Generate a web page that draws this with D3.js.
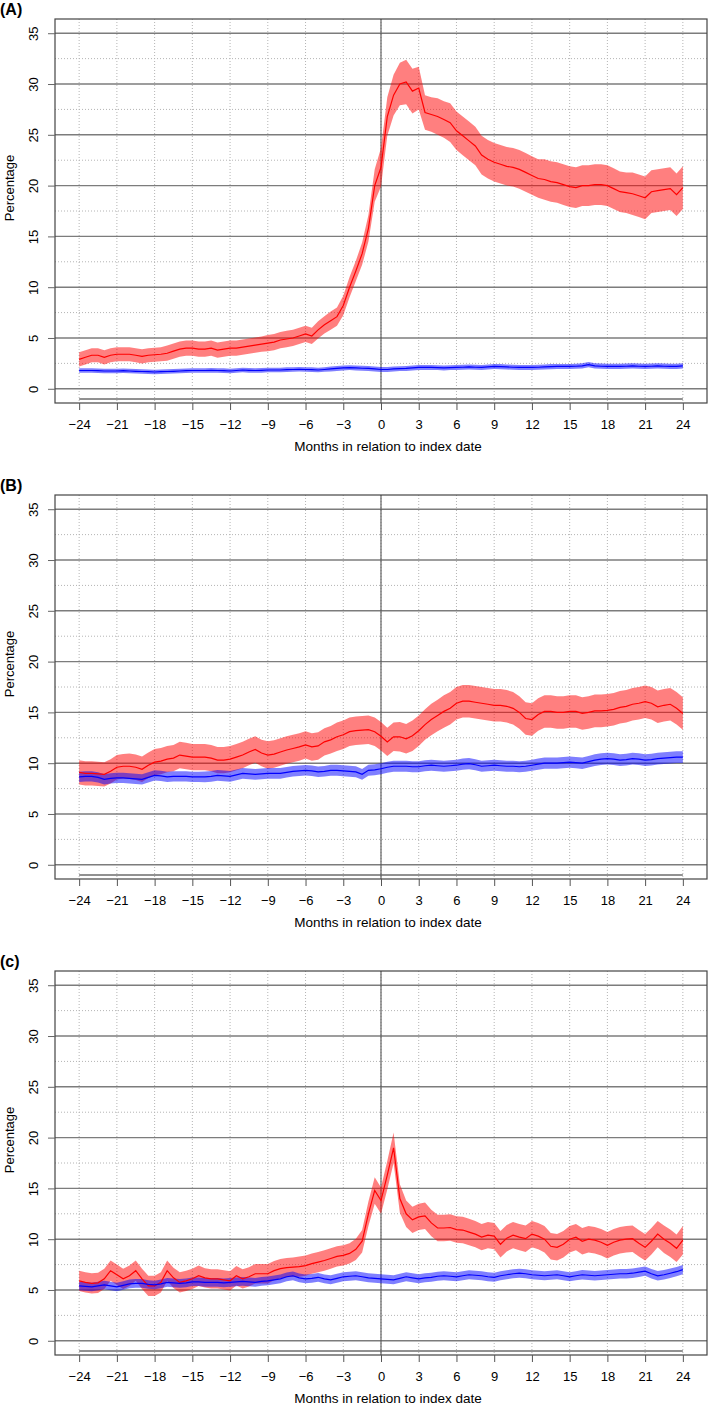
<!DOCTYPE html>
<html><head><meta charset="utf-8">
<script src="https://cdn.jsdelivr.net/npm/d3@7"></script>
<style>
body{margin:0;background:#fff}
svg{display:block}
text{font-family:"Liberation Sans",Arial,Helvetica,sans-serif;fill:#000}
</style>
</head><body>
<svg id="chart" width="709" height="1409"></svg>
<script>
// x grid: months relative to index date (half-month steps)
const months = d3.range(-24, 24.001, 0.5);
const xTicks = [-24,-21,-18,-15,-12,-9,-6,-3,0,3,6,9,12,15,18,21,24];
const yTicks = [0,5,10,15,20,25,30,35];
const yMinor = [2.5,7.5,12.5,17.5,22.5,27.5,32.5];
const panelLabels = ["(A)","(B)","(c)"];
const xTitle = "Months in relation to index date";
const yTitle = "Percentage";

// Panel A
const aRedMean = [
2.9,3.1,3.3,3.3,3.1,3.3,3.4,3.4,3.4,3.3,
3.2,3.3,3.35,3.4,3.5,3.7,3.9,4.0,4.0,3.9,
3.9,4.0,3.8,3.9,4.0,4.0,4.1,4.2,4.3,4.4,
4.5,4.6,4.8,4.9,5.0,5.2,5.4,5.2,5.8,6.3,
6.7,7.1,8.2,10.0,11.6,13.3,15.8,20.0,21.8,26.8,
28.9,30.0,30.2,29.3,29.6,27.2,27.0,26.8,26.5,26.2,
25.4,24.9,24.4,23.9,23.0,22.6,22.3,22.1,21.9,21.8,
21.6,21.3,21.0,20.7,20.6,20.4,20.3,20.1,19.9,19.8,
20.0,20.0,20.1,20.1,20.0,19.7,19.4,19.3,19.2,19.0,
18.8,19.4,19.5,19.6,19.7,19.1,19.8];
const aRedHalf = [
0.7,0.7,0.7,0.7,0.7,0.7,0.7,0.7,0.7,0.7,
0.7,0.7,0.7,0.7,0.75,0.75,0.75,0.75,0.75,0.75,
0.75,0.75,0.75,0.75,0.75,0.75,0.75,0.75,0.75,0.75,
0.8,0.8,0.8,0.8,0.8,0.8,0.8,0.8,0.85,0.85,
0.9,0.9,0.95,1.0,1.0,1.1,1.3,1.6,1.9,1.9,
2.0,2.1,2.2,2.2,2.1,1.7,1.7,1.8,1.8,1.9,
1.9,1.9,1.9,1.9,1.9,1.9,1.9,1.9,1.9,1.9,
1.9,1.9,1.9,1.9,2.0,2.0,2.0,2.0,2.0,2.0,
2.0,2.0,2.0,2.0,2.0,2.0,2.0,2.0,2.1,2.1,
2.1,2.1,2.1,2.1,2.1,2.1,2.1];
const aBlueMean = [
1.8,1.8,1.8,1.78,1.75,1.75,1.75,1.78,1.75,1.72,
1.7,1.68,1.65,1.68,1.7,1.72,1.75,1.78,1.8,1.8,
1.8,1.82,1.8,1.78,1.75,1.8,1.85,1.82,1.8,1.82,
1.85,1.85,1.85,1.88,1.9,1.92,1.9,1.88,1.85,1.9,
1.95,2.0,2.05,2.08,2.05,2.02,2.0,1.95,1.9,1.9,
1.95,1.98,2.0,2.05,2.1,2.1,2.1,2.08,2.05,2.08,
2.1,2.12,2.15,2.12,2.1,2.15,2.2,2.18,2.15,2.12,
2.1,2.1,2.1,2.12,2.15,2.18,2.2,2.2,2.2,2.22,
2.25,2.38,2.25,2.22,2.2,2.2,2.2,2.22,2.25,2.22,
2.2,2.22,2.25,2.22,2.2,2.2,2.25];
const aBlueHalf = [
0.22,0.22,0.22,0.22,0.22,0.22,0.22,0.22,0.22,0.22,
0.22,0.22,0.22,0.22,0.22,0.22,0.22,0.22,0.22,0.22,
0.23,0.23,0.23,0.23,0.23,0.23,0.23,0.23,0.23,0.23,
0.23,0.23,0.23,0.23,0.23,0.23,0.23,0.23,0.23,0.23,
0.24,0.24,0.24,0.24,0.24,0.24,0.24,0.24,0.24,0.24,
0.24,0.24,0.24,0.24,0.24,0.24,0.24,0.24,0.24,0.24,
0.25,0.25,0.25,0.25,0.25,0.25,0.25,0.25,0.25,0.25,
0.25,0.25,0.25,0.25,0.25,0.25,0.25,0.25,0.25,0.25,
0.26,0.26,0.26,0.26,0.26,0.26,0.26,0.26,0.26,0.26,
0.26,0.26,0.26,0.26,0.26,0.26,0.26];

// Panel B
const bRedMean = [
9.1,9.0,9.0,8.95,8.9,9.2,9.6,9.7,9.7,9.6,
9.4,9.8,10.1,10.2,10.4,10.5,10.8,10.7,10.6,10.6,
10.6,10.5,10.3,10.3,10.4,10.6,10.8,11.1,11.35,11.0,
10.8,10.9,11.1,11.3,11.45,11.6,11.8,11.6,11.7,12.1,
12.3,12.6,12.8,13.1,13.2,13.25,13.3,13.1,12.65,12.1,
12.6,12.6,12.4,12.7,13.2,13.8,14.3,14.7,15.1,15.4,
15.9,16.1,16.1,16.0,15.9,15.8,15.7,15.7,15.6,15.4,
15.0,14.4,14.3,14.8,15.1,15.1,15.0,15.0,15.1,15.1,
14.9,15.0,15.15,15.15,15.2,15.3,15.5,15.6,15.8,15.9,
16.05,15.9,15.55,15.7,15.8,15.4,14.9];
const bRedHalf = [
1.2,1.2,1.2,1.2,1.2,1.2,1.2,1.2,1.25,1.25,
1.25,1.25,1.3,1.3,1.3,1.3,1.3,1.3,1.3,1.3,
1.3,1.3,1.3,1.3,1.3,1.3,1.3,1.3,1.3,1.3,
1.35,1.35,1.35,1.35,1.35,1.35,1.35,1.35,1.35,1.35,
1.35,1.4,1.4,1.4,1.4,1.4,1.4,1.4,1.4,1.4,
1.4,1.45,1.45,1.5,1.5,1.5,1.55,1.55,1.6,1.6,
1.6,1.6,1.6,1.6,1.6,1.6,1.6,1.6,1.6,1.6,
1.6,1.6,1.6,1.6,1.6,1.6,1.6,1.6,1.6,1.6,
1.6,1.6,1.6,1.6,1.6,1.6,1.6,1.6,1.6,1.6,
1.6,1.6,1.6,1.6,1.6,1.6,1.6];
const bBlueMean = [
8.65,8.7,8.7,8.6,8.4,8.5,8.55,8.55,8.5,8.45,
8.4,8.6,8.8,8.75,8.65,8.7,8.7,8.7,8.65,8.65,
8.65,8.7,8.8,8.75,8.7,8.85,9.0,8.95,8.9,8.95,
9.0,9.0,9.0,9.1,9.2,9.25,9.3,9.25,9.15,9.2,
9.3,9.3,9.25,9.2,9.15,8.9,9.3,9.35,9.45,9.6,
9.7,9.7,9.7,9.65,9.65,9.75,9.8,9.75,9.7,9.75,
9.8,9.9,9.95,9.85,9.7,9.75,9.8,9.75,9.7,9.7,
9.65,9.7,9.8,9.9,10.0,10.0,10.0,10.05,10.1,10.05,
10.0,10.15,10.3,10.4,10.45,10.4,10.3,10.35,10.45,10.4,
10.3,10.35,10.45,10.5,10.55,10.6,10.6];
const bBlueHalf = [
0.5,0.5,0.5,0.5,0.5,0.5,0.5,0.5,0.5,0.5,
0.5,0.5,0.5,0.5,0.5,0.5,0.5,0.5,0.5,0.5,
0.52,0.52,0.52,0.52,0.52,0.52,0.52,0.52,0.52,0.52,
0.52,0.52,0.52,0.52,0.52,0.52,0.52,0.52,0.52,0.52,
0.54,0.54,0.54,0.54,0.54,0.54,0.54,0.54,0.54,0.54,
0.54,0.54,0.54,0.54,0.54,0.54,0.54,0.54,0.54,0.54,
0.55,0.55,0.55,0.55,0.55,0.55,0.55,0.55,0.55,0.55,
0.55,0.55,0.55,0.55,0.55,0.55,0.55,0.55,0.55,0.55,
0.57,0.57,0.57,0.57,0.57,0.57,0.57,0.57,0.57,0.57,
0.57,0.57,0.57,0.57,0.57,0.57,0.57];

// Panel C
const cRedMean = [
5.9,5.75,5.65,5.7,6.1,6.9,6.5,6.1,6.4,6.9,
6.1,5.4,5.4,5.75,6.9,6.2,5.75,5.9,6.1,6.4,
6.2,6.1,6.1,6.0,5.9,6.4,6.1,6.3,6.6,6.6,
6.6,6.9,7.1,7.2,7.25,7.3,7.4,7.6,7.75,7.9,
8.1,8.3,8.4,8.6,9.0,9.8,12.5,14.8,13.8,16.3,
19.0,14.0,12.5,11.9,12.2,12.3,11.6,11.1,11.1,11.15,
10.95,10.9,10.7,10.5,10.2,10.4,10.3,9.5,10.1,10.4,
10.2,10.05,10.5,10.3,10.0,9.3,9.2,9.5,10.0,10.2,
9.8,10.0,9.9,9.7,9.4,9.7,9.9,10.0,10.05,9.6,
9.2,9.8,10.5,10.0,9.6,9.1,9.9];
const cRedHalf = [
1.0,1.0,1.0,1.0,1.0,1.0,1.0,1.0,1.0,1.0,
1.0,1.0,1.0,1.0,1.0,1.0,1.0,1.0,1.0,1.0,
0.95,0.95,0.95,0.95,0.95,0.95,0.95,0.95,0.95,0.95,
0.95,0.95,0.95,0.95,0.95,1.0,1.0,1.0,1.0,1.0,
1.0,1.0,1.0,1.0,1.05,1.1,1.2,1.3,1.3,1.4,
1.5,1.4,1.3,1.3,1.3,1.3,1.3,1.3,1.3,1.3,
1.3,1.3,1.3,1.3,1.3,1.3,1.3,1.3,1.3,1.3,
1.3,1.3,1.3,1.3,1.3,1.3,1.3,1.3,1.3,1.3,
1.3,1.3,1.3,1.3,1.3,1.3,1.3,1.3,1.3,1.3,
1.3,1.3,1.3,1.35,1.35,1.35,1.4];
const cBlueMean = [
5.4,5.35,5.3,5.4,5.5,5.4,5.3,5.45,5.6,5.65,
5.65,5.55,5.5,5.6,5.75,5.7,5.65,5.7,5.8,5.8,
5.75,5.75,5.75,5.7,5.75,5.8,5.85,5.8,5.75,5.85,
5.9,6.0,6.1,6.3,6.4,6.2,6.1,6.15,6.25,6.1,
6.0,6.15,6.3,6.35,6.4,6.3,6.2,6.15,6.1,6.05,
6.0,6.15,6.3,6.2,6.1,6.2,6.25,6.35,6.4,6.35,
6.3,6.4,6.5,6.45,6.4,6.3,6.25,6.4,6.5,6.6,
6.65,6.6,6.5,6.45,6.4,6.45,6.5,6.4,6.3,6.4,
6.5,6.45,6.4,6.45,6.5,6.55,6.6,6.6,6.65,6.75,
6.85,6.6,6.4,6.5,6.65,6.8,7.0];
const cBlueHalf = [
0.42,0.42,0.42,0.42,0.42,0.42,0.42,0.42,0.42,0.42,
0.42,0.42,0.42,0.42,0.42,0.42,0.42,0.42,0.42,0.42,
0.43,0.43,0.43,0.43,0.43,0.43,0.43,0.43,0.43,0.43,
0.43,0.43,0.43,0.43,0.43,0.43,0.43,0.43,0.43,0.43,
0.44,0.44,0.44,0.44,0.44,0.44,0.44,0.44,0.44,0.44,
0.44,0.44,0.44,0.44,0.44,0.44,0.44,0.44,0.44,0.44,
0.45,0.45,0.45,0.45,0.45,0.45,0.45,0.45,0.45,0.45,
0.45,0.45,0.45,0.45,0.45,0.45,0.45,0.45,0.45,0.45,
0.46,0.46,0.46,0.46,0.46,0.46,0.46,0.46,0.46,0.46,
0.46,0.46,0.46,0.46,0.46,0.46,0.46];

const panels = [
  {label: panelLabels[0], top: 0,   red: aRedMean, redHalf: aRedHalf, blue: aBlueMean, blueHalf: aBlueHalf},
  {label: panelLabels[1], top: 476, red: bRedMean, redHalf: bRedHalf, blue: bBlueMean, blueHalf: bBlueHalf},
  {label: panelLabels[2], top: 952, red: cRedMean, redHalf: cRedHalf, blue: cBlueMean, blueHalf: cBlueHalf}
];

const svg = d3.select("#chart");
const L = 55, R = 707, T = 19, B = 403;
const x = d3.scaleLinear().domain([-25.92, 25.92]).range([L, R]);
const fmt = d => d < 0 ? "\u2212" + Math.abs(d) : String(d);

panels.forEach(p => {
  const g = svg.append("g").attr("transform", `translate(0,${p.top})`);
  const y = d3.scaleLinear().domain([-1.4, 36.4]).range([B, T]);

  // dotted minor grid
  g.append("g").selectAll("line").data(xTicks).join("line")
    .attr("x1", d => x(d)).attr("x2", d => x(d)).attr("y1", T).attr("y2", B)
    .attr("stroke", "#b4b4b4").attr("stroke-width", 1).attr("stroke-dasharray", "1,2");
  g.append("g").selectAll("line").data(yMinor).join("line")
    .attr("x1", L).attr("x2", R).attr("y1", d => y(d)).attr("y2", d => y(d))
    .attr("stroke", "#b4b4b4").attr("stroke-width", 1).attr("stroke-dasharray", "1,2");
  // solid major horizontal lines
  g.append("g").selectAll("line").data(yTicks).join("line")
    .attr("x1", L).attr("x2", R).attr("y1", d => y(d)).attr("y2", d => y(d))
    .attr("stroke", "#7c7c7c").attr("stroke-width", 1.4);
  // baseline at -1
  g.append("line").attr("x1", x(-24)).attr("x2", x(24)).attr("y1", y(-1)).attr("y2", y(-1))
    .attr("stroke", "#6c6c6c").attr("stroke-width", 1.4);
  // vertical index line
  g.append("line").attr("x1", x(0)).attr("x2", x(0)).attr("y1", T).attr("y2", B)
    .attr("stroke", "#555").attr("stroke-width", 1.1);

  const rows = months.map((m, i) => ({
    m, r: p.red[i], rl: p.red[i] - p.redHalf[i], rh: p.red[i] + p.redHalf[i],
    b: p.blue[i], bl: p.blue[i] - p.blueHalf[i], bh: p.blue[i] + p.blueHalf[i]
  }));

  g.append("path").datum(rows)
    .attr("d", d3.area().x(d => x(d.m)).y0(d => y(d.rl)).y1(d => y(d.rh)))
    .attr("fill", "rgba(255,0,0,0.5)");
  g.append("path").datum(rows)
    .attr("d", d3.area().x(d => x(d.m)).y0(d => y(d.bl)).y1(d => y(d.bh)))
    .attr("fill", "rgba(0,0,255,0.5)");
  g.append("path").datum(rows)
    .attr("d", d3.line().x(d => x(d.m)).y(d => y(d.r)))
    .attr("fill", "none").attr("stroke", "#ff0000").attr("stroke-width", 1.2);
  g.append("path").datum(rows)
    .attr("d", d3.line().x(d => x(d.m)).y(d => y(d.b)))
    .attr("fill", "none").attr("stroke", "#0000ff").attr("stroke-width", 1.2);

  // box
  g.append("rect").attr("x", L).attr("y", T).attr("width", R - L).attr("height", B - T)
    .attr("fill", "none").attr("stroke", "#444").attr("stroke-width", 1.2);

  // x axis
  const xa = g.append("g").attr("transform", `translate(0,${B})`)
    .call(d3.axisBottom(x).tickValues(xTicks).tickSize(7).tickFormat(fmt));
  xa.select(".domain").remove();
  xa.selectAll(".tick line").attr("stroke", "#555");
  xa.selectAll(".tick text").attr("y", 26).attr("dy", 0)
    .style("font-size", "13px").style("font-family", "'Liberation Sans',Arial,sans-serif");

  // y axis
  const ya = g.append("g").attr("transform", `translate(${L},0)`)
    .call(d3.axisLeft(y).tickValues(yTicks).tickSize(7).tickFormat(fmt));
  ya.select(".domain").remove();
  ya.selectAll(".tick line").attr("stroke", "#666");
  ya.selectAll(".tick text").attr("transform", "rotate(-90)")
    .attr("x", 0).attr("y", -17).attr("dy", 0).attr("text-anchor", "middle")
    .style("font-size", "13px").style("font-family", "'Liberation Sans',Arial,sans-serif");

  // titles
  g.append("text").attr("x", 0).attr("y", 15).text(p.label)
    .style("font-size", "16px").style("font-weight", "bold");
  g.append("text").attr("x", 388).attr("y", 451).attr("text-anchor", "middle")
    .style("font-size", "13.5px").text(xTitle);
  g.append("text").attr("transform", "translate(14,188) rotate(-90)")
    .attr("text-anchor", "middle").style("font-size", "13px").text(yTitle);
});
</script>
</body></html>
